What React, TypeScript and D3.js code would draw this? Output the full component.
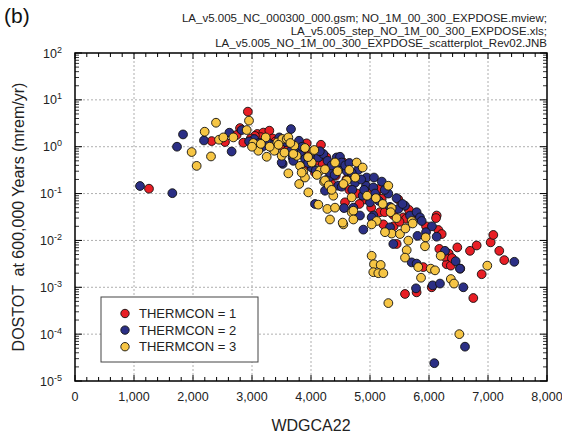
import React from 'react';
import * as d3 from 'd3';

const headerLines = [
  'LA_v5.005_NC_000300_000.gsm; NO_1M_00_300_EXPDOSE.mview;',
  'LA_v5.005_step_NO_1M_00_300_EXPDOSE.xls;',
  'LA_v5.005_NO_1M_00_300_EXPDOSE_scatterplot_Rev02.JNB',
];
const xTicks = [0, 1000, 2000, 3000, 4000, 5000, 6000, 7000, 8000];
const yExponents = [2, 1, 0, -1, -2, -3, -4, -5];
const seriesNames = ['THERMCON = 1', 'THERMCON = 2', 'THERMCON = 3'];
const seriesColors = ['#e81e25', '#2b2f85', '#f6c544'];

const thermcon1: [number, number][] = [
  [1254, 0.127], [2316, 1.32], [2542, 1.26], [2740, 1.78], [2797, 2.5], [2853, 1.22], [2930, 5.6],
  [3090, 1.87], [3192, 2.0], [3294, 2.2], [3350, 1.5], [3605, 1.18], [3616, 0.89], [3927, 1.18],
  [3915, 0.59], [4068, 0.28], [4169, 1.1], [3870, 0.36], [4322, 0.31], [4350, 0.16], [4548, 0.46],
  [4700, 0.25], [4576, 0.065], [5113, 0.093], [5141, 0.125], [5198, 0.077], [5169, 0.04], [5395, 0.035],
  [5565, 0.031], [6130, 0.034], [5226, 0.022], [5610, 0.029], [5706, 0.034], [6119, 0.03], [6158, 0.0167],
  [6215, 0.0137], [5452, 0.0084], [6175, 0.0066], [6335, 0.0052], [6480, 0.0071], [6300, 0.0031],
  [6370, 0.0029], [5903, 0.0027], [6695, 0.006], [6808, 0.0078], [7045, 0.0091], [7090, 0.0131],
  [7191, 0.006], [7276, 0.0038], [6893, 0.0019], [6751, 0.00059], [5593, 0.00072], [5790, 0.00078],
  [6046, 0.001], [6271, 0.0045], [6390, 0.0042], [6530, 0.0025], [3150, 1.6], [3400, 1.3], [3480, 1.05],
  [3550, 1.4], [3700, 0.95], [3780, 1.1], [3850, 0.8], [3980, 0.7], [4100, 0.5], [4200, 0.42],
  [4260, 0.6], [4380, 0.38], [4420, 0.24], [4600, 0.2], [4650, 0.12], [4780, 0.1], [4900, 0.075],
  [4950, 0.11], [5020, 0.05], [4820, 0.06], [5250, 0.04], [5400, 0.02], [5500, 0.025], [5950, 0.02],
  [3200, 1.3], [3050, 1.7], [2980, 1.5], [5480, 0.075], [5660, 0.045],
];

const thermcon2: [number, number][] = [
  [1102, 0.145], [1650, 0.102], [1729, 1.0], [1831, 1.83], [2186, 1.36], [2616, 1.99], [2655, 0.79],
  [2825, 2.27], [3039, 1.46], [3305, 1.14], [3463, 1.58], [3520, 0.43], [3661, 2.38], [3689, 0.59],
  [3757, 0.82], [3797, 1.34], [3814, 0.7], [3503, 0.46], [3700, 0.5], [4012, 0.36], [4068, 0.67],
  [4124, 0.59], [4209, 0.7], [4080, 0.31], [4305, 0.22], [4237, 0.115], [4068, 0.06], [4435, 0.59],
  [4492, 0.36], [4463, 0.147], [4520, 0.14], [4492, 0.61], [4520, 0.46], [4802, 0.32], [4605, 0.3],
  [4746, 0.17], [4944, 0.22], [5068, 0.22], [4932, 0.147], [5310, 0.1], [5056, 0.135], [5085, 0.1],
  [4876, 0.09], [4560, 0.049], [4718, 0.05], [5000, 0.065], [5339, 0.052], [5593, 0.055], [5480, 0.047],
  [4830, 0.034], [5056, 0.034], [5678, 0.034], [5790, 0.04], [5847, 0.031], [5028, 0.031], [5876, 0.026],
  [4887, 0.017], [5339, 0.019], [5805, 0.0125], [6130, 0.012], [5395, 0.0084], [6271, 0.006],
  [6452, 0.0036], [6525, 0.0025], [5706, 0.0034], [5790, 0.0032], [6062, 0.0011], [6186, 0.0012],
  [6582, 0.001], [5780, 0.00095], [6610, 0.000054], [6090, 0.000024], [7446, 0.0035], [4689, 0.28],
  [4322, 0.28], [3120, 1.2], [3250, 1.3], [3400, 1.0], [3580, 1.25], [3650, 0.8], [3850, 1.0],
  [3900, 0.55], [3950, 0.45], [4150, 0.8], [4280, 0.5], [4350, 0.4], [4400, 0.25], [4580, 0.4],
  [4650, 0.45], [4700, 0.12], [4850, 0.2], [4900, 0.12], [5150, 0.07], [5200, 0.18], [5250, 0.12],
  [5450, 0.08], [5550, 0.06], [5950, 0.015], [6050, 0.02], [2950, 1.3], [3180, 1.0],
];

const thermcon3: [number, number][] = [
  [1977, 0.77], [2062, 0.39], [2198, 2.09], [2305, 0.62], [2390, 3.25], [2441, 1.41], [2514, 1.58],
  [2684, 1.58], [2910, 2.27], [2949, 3.6], [3022, 1.2], [3107, 0.82], [3232, 1.58], [3249, 0.61],
  [3361, 0.89], [3378, 0.82], [3429, 1.23], [3514, 1.46], [3588, 1.46], [3616, 0.27], [3616, 1.58],
  [3717, 1.05], [3757, 0.64], [3814, 0.39], [3870, 0.29], [3898, 0.22], [3898, 0.94], [3842, 0.28],
  [3955, 0.106], [4012, 0.46], [4040, 0.82], [4056, 0.85], [4124, 0.058], [4153, 0.31], [4237, 0.33],
  [4220, 0.18], [4237, 0.19], [4378, 0.09], [4407, 0.46], [4774, 0.46], [4876, 0.36], [4605, 0.19],
  [5310, 0.147], [4689, 0.083], [5215, 0.06], [5367, 0.049], [4689, 0.04], [4277, 0.047], [4407, 0.05],
  [4322, 0.028], [4548, 0.022], [5706, 0.026], [5367, 0.014], [5508, 0.0137], [5650, 0.0099],
  [5622, 0.0062], [5593, 0.0043], [5818, 0.0027], [6029, 0.0025], [6102, 0.0023], [5865, 0.0016],
  [6370, 0.0015], [6424, 0.0012], [6198, 0.0047], [6988, 0.0029], [5028, 0.0047], [5068, 0.0031],
  [5181, 0.003], [5056, 0.0021], [5141, 0.002], [5226, 0.002], [5311, 0.00046], [6514, 0.0001],
  [5723, 0.023], [5944, 0.0116], [5932, 0.0075], [5113, 0.026], [4718, 0.043], [3503, 0.64],
  [4537, 0.024], [4718, 0.028], [5028, 0.022], [5254, 0.015], [3000, 1.0], [3150, 1.15], [3300, 1.0],
  [3450, 1.1], [3550, 0.75], [3650, 1.2], [3700, 0.7], [3950, 0.6], [4100, 0.25], [4300, 0.15],
  [4450, 0.3], [4550, 0.16], [4650, 0.32], [4750, 0.22], [4950, 0.09], [5100, 0.08], [5350, 0.04],
  [5450, 0.03], [5600, 0.018], [3800, 0.16], [4350, 0.12],
];

const seriesData = [thermcon1, thermcon2, thermcon3];

const W = 562;
const H = 435;
const L = 75, R = 547, T = 53, B = 381;

export default function App() {
  const x = d3.scaleLinear().domain([0, 8000]).range([L, R]);
  const y = d3.scaleLog().domain([1e-5, 1e2]).range([B, T]);
  const font = 'Liberation Sans, Arial, Helvetica, sans-serif';

  const xMinor = d3.range(0, 8001, 200).filter((v) => v % 1000 !== 0);
  const yMinor: number[] = [];
  for (let e = -5; e < 2; e++) {
    for (let k = 2; k <= 9; k++) yMinor.push(k * Math.pow(10, e));
  }
  const fmt = d3.format(',');

  return (
    <svg width={W} height={H} style={{ position: 'absolute', left: 0, top: 0, background: '#fff' }} fontFamily={font}>
      <rect x={0} y={0} width={W} height={H} fill="#fff" />
      {/* header */}
      <text x={4} y={23} fontSize={21} fill="#111">(b)</text>
      {headerLines.map((t, i) => (
        <text key={i} x={R} y={22 + i * 12.6} fontSize={11.5} textAnchor="end" fill="#222">{t}</text>
      ))}
      {/* grid */}
      {xTicks.slice(1, -1).map((v) => (
        <line key={'gx' + v} x1={x(v)} x2={x(v)} y1={T} y2={B} stroke="#9a9a9a" strokeWidth={0.8} strokeDasharray="2,2" />
      ))}
      {yExponents.slice(1, -1).map((e) => (
        <line key={'gy' + e} x1={L} x2={R} y1={y(Math.pow(10, e))} y2={y(Math.pow(10, e))} stroke="#9a9a9a" strokeWidth={0.8} strokeDasharray="2,2" />
      ))}
      {/* ticks */}
      {xTicks.map((v) => (
        <g key={'xt' + v}>
          <line x1={x(v)} x2={x(v)} y1={B} y2={B - 6} stroke="#000" strokeWidth={1} />
          <line x1={x(v)} x2={x(v)} y1={T} y2={T + 6} stroke="#000" strokeWidth={1} />
          <text x={x(v)} y={401} fontSize={12.5} textAnchor="middle" fill="#222">{fmt(v)}</text>
        </g>
      ))}
      {xMinor.map((v) => (
        <g key={'xm' + v}>
          <line x1={x(v)} x2={x(v)} y1={B} y2={B - 4} stroke="#000" strokeWidth={1} />
          <line x1={x(v)} x2={x(v)} y1={T} y2={T + 4} stroke="#000" strokeWidth={1} />
        </g>
      ))}
      {yExponents.map((e) => {
        const yy = y(Math.pow(10, e));
        return (
          <g key={'yt' + e}>
            <line x1={L} x2={L + 7} y1={yy} y2={yy} stroke="#000" strokeWidth={1} />
            <line x1={R} x2={R - 7} y1={yy} y2={yy} stroke="#000" strokeWidth={1} />
            <text x={62} y={yy + 4.5} fontSize={12.5} textAnchor="end" fill="#222">
              10<tspan fontSize={9} dy={-5}>{e}</tspan>
            </text>
          </g>
        );
      })}
      {yMinor.map((v, i) => (
        <g key={'ym' + i}>
          <line x1={L} x2={L + 4} y1={y(v)} y2={y(v)} stroke="#000" strokeWidth={0.8} />
          <line x1={R} x2={R - 4} y1={y(v)} y2={y(v)} stroke="#000" strokeWidth={0.8} />
        </g>
      ))}
      {/* frame */}
      <rect x={L} y={T} width={R - L} height={B - T} fill="none" stroke="#000" strokeWidth={1.5} />
      {/* points */}
      {seriesData.map((pts, si) => (
        <g key={'s' + si}>
          {pts.map((p, i) => (
            <circle key={i} cx={x(p[0])} cy={y(p[1])} r={4.4} fill={seriesColors[si]} stroke="#111" strokeWidth={0.9} />
          ))}
        </g>
      ))}
      {/* legend */}
      <rect x={101} y={297} width={157} height={65} fill="#fff" stroke="#444" strokeWidth={1} />
      {seriesNames.map((n, i) => (
        <g key={'lg' + i}>
          <circle cx={125} cy={313.5 + i * 16.6} r={4.2} fill={seriesColors[i]} stroke="#111" strokeWidth={0.9} />
          <text x={139} y={318 + i * 16.6} fontSize={13} fill="#222">{n}</text>
        </g>
      ))}
      {/* axis titles */}
      <text x={(L + R) / 2} y={431} fontSize={16} textAnchor="middle" fill="#222">WDGCA22</text>
      <text transform={`translate(24, ${(T + B) / 2}) rotate(-90)`} fontSize={16} textAnchor="middle" fill="#222" style={{ whiteSpace: 'pre' }}>
        {'DOSTOT  at 600,000 Years (mrem/yr)'}
      </text>
    </svg>
  );
}
